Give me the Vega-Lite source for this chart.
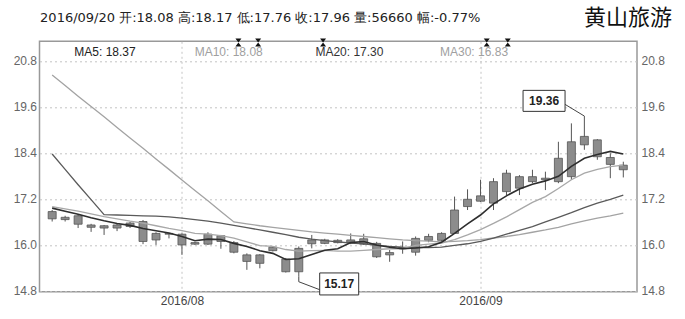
{
  "$schema": "https://vega.github.io/schema/vega-lite/v6.json",
  "width": 597.5,
  "height": 250.4,
  "autosize": {"type": "none"},
  "padding": {"left": 39.5, "top": 41.3, "right": 48, "bottom": 27.3},
  "background": "white",
  "config": {"view": {"stroke": "#999", "strokeWidth": 1.5}, "font": "Liberation Sans"},
  "datasets": {
    "k": [
      {"d": "2016-07-18", "i": 1, "o": 16.87, "h": 16.91, "l": 16.61, "c": 16.68},
      {"d": "2016-07-19", "i": 2, "o": 16.72, "h": 16.76, "l": 16.61, "c": 16.66},
      {"d": "2016-07-20", "i": 3, "o": 16.76, "h": 16.78, "l": 16.44, "c": 16.54},
      {"d": "2016-07-21", "i": 4, "o": 16.52, "h": 16.55, "l": 16.34, "c": 16.46},
      {"d": "2016-07-22", "i": 5, "o": 16.50, "h": 16.52, "l": 16.26, "c": 16.44},
      {"d": "2016-07-25", "i": 6, "o": 16.44, "h": 16.55, "l": 16.36, "c": 16.52},
      {"d": "2016-07-26", "i": 7, "o": 16.48, "h": 16.60, "l": 16.44, "c": 16.57},
      {"d": "2016-07-27", "i": 8, "o": 16.61, "h": 16.65, "l": 16.02, "c": 16.09},
      {"d": "2016-07-28", "i": 9, "o": 16.30, "h": 16.33, "l": 16.00, "c": 16.13},
      {"d": "2016-07-29", "i": 10, "o": 16.28, "h": 16.31, "l": 16.17, "c": 16.30},
      {"d": "2016-08-01", "i": 11, "o": 16.28, "h": 16.30, "l": 15.74, "c": 16.00},
      {"d": "2016-08-02", "i": 12, "o": 16.06, "h": 16.08, "l": 16.00, "c": 16.02},
      {"d": "2016-08-03", "i": 13, "o": 16.02, "h": 16.33, "l": 16.00, "c": 16.28},
      {"d": "2016-08-04", "i": 14, "o": 16.24, "h": 16.26, "l": 15.90, "c": 16.09},
      {"d": "2016-08-05", "i": 15, "o": 16.06, "h": 16.10, "l": 15.78, "c": 15.81},
      {"d": "2016-08-08", "i": 16, "o": 15.74, "h": 15.78, "l": 15.35, "c": 15.57},
      {"d": "2016-08-09", "i": 17, "o": 15.74, "h": 15.76, "l": 15.39, "c": 15.52},
      {"d": "2016-08-10", "i": 18, "o": 15.85, "h": 15.97, "l": 15.83, "c": 15.94},
      {"d": "2016-08-11", "i": 19, "o": 15.63, "h": 15.66, "l": 15.28, "c": 15.30},
      {"d": "2016-08-12", "i": 20, "o": 15.30, "h": 15.96, "l": 15.17, "c": 15.91},
      {"d": "2016-08-15", "i": 21, "o": 16.03, "h": 16.26, "l": 15.91, "c": 16.13},
      {"d": "2016-08-16", "i": 22, "o": 16.04, "h": 16.16, "l": 16.02, "c": 16.13},
      {"d": "2016-08-17", "i": 23, "o": 16.12, "h": 16.15, "l": 16.04, "c": 16.06},
      {"d": "2016-08-18", "i": 24, "o": 16.07, "h": 16.30, "l": 16.02, "c": 16.13},
      {"d": "2016-08-19", "i": 25, "o": 16.16, "h": 16.29, "l": 16.00, "c": 16.02},
      {"d": "2016-08-22", "i": 26, "o": 16.04, "h": 16.08, "l": 15.66, "c": 15.69},
      {"d": "2016-08-23", "i": 27, "o": 15.80, "h": 15.87, "l": 15.56, "c": 15.74},
      {"d": "2016-08-24", "i": 28, "o": 15.90, "h": 16.09, "l": 15.77, "c": 15.93},
      {"d": "2016-08-25", "i": 29, "o": 15.81, "h": 16.22, "l": 15.72, "c": 16.17},
      {"d": "2016-08-26", "i": 30, "o": 16.12, "h": 16.29, "l": 16.07, "c": 16.22},
      {"d": "2016-08-29", "i": 31, "o": 16.12, "h": 16.33, "l": 16.10, "c": 16.30},
      {"d": "2016-08-30", "i": 32, "o": 16.30, "h": 17.26, "l": 16.30, "c": 16.91},
      {"d": "2016-08-31", "i": 33, "o": 17.00, "h": 17.45, "l": 16.91, "c": 17.19},
      {"d": "2016-09-01", "i": 34, "o": 17.14, "h": 17.70, "l": 17.12, "c": 17.28},
      {"d": "2016-09-02", "i": 35, "o": 17.09, "h": 17.74, "l": 16.91, "c": 17.65},
      {"d": "2016-09-05", "i": 36, "o": 17.87, "h": 17.96, "l": 17.30, "c": 17.39},
      {"d": "2016-09-06", "i": 37, "o": 17.48, "h": 17.82, "l": 17.30, "c": 17.78},
      {"d": "2016-09-07", "i": 38, "o": 17.65, "h": 17.96, "l": 17.61, "c": 17.78},
      {"d": "2016-09-08", "i": 39, "o": 17.70, "h": 17.91, "l": 17.43, "c": 17.74},
      {"d": "2016-09-09", "i": 40, "o": 17.65, "h": 18.69, "l": 17.61, "c": 18.26},
      {"d": "2016-09-12", "i": 41, "o": 17.78, "h": 19.17, "l": 17.70, "c": 18.69},
      {"d": "2016-09-13", "i": 42, "o": 18.61, "h": 19.36, "l": 18.48, "c": 18.83},
      {"d": "2016-09-14", "i": 43, "o": 18.74, "h": 18.76, "l": 18.22, "c": 18.30},
      {"d": "2016-09-19", "i": 44, "o": 18.28, "h": 18.39, "l": 17.74, "c": 18.10},
      {"d": "2016-09-20", "i": 45, "o": 18.08, "h": 18.17, "l": 17.76, "c": 17.96}
    ],
    "ma": [
      {"i": 1, "ma5": 16.96, "ma10": 17.00, "ma20": 18.37, "ma30": 20.43},
      {"i": 2, "ma5": 16.88, "ma10": 16.94, "ma20": 17.97, "ma30": 20.16},
      {"i": 3, "ma5": 16.80, "ma10": 16.88, "ma20": 17.57, "ma30": 19.88},
      {"i": 4, "ma5": 16.71, "ma10": 16.81, "ma20": 17.18, "ma30": 19.61},
      {"i": 5, "ma5": 16.63, "ma10": 16.74, "ma20": 16.79, "ma30": 19.34},
      {"i": 6, "ma5": 16.56, "ma10": 16.68, "ma20": 16.78, "ma30": 19.06},
      {"i": 7, "ma5": 16.51, "ma10": 16.62, "ma20": 16.77, "ma30": 18.79},
      {"i": 8, "ma5": 16.43, "ma10": 16.57, "ma20": 16.76, "ma30": 18.52},
      {"i": 9, "ma5": 16.37, "ma10": 16.50, "ma20": 16.75, "ma30": 18.24},
      {"i": 10, "ma5": 16.31, "ma10": 16.43, "ma20": 16.73, "ma30": 17.97},
      {"i": 11, "ma5": 16.22, "ma10": 16.37, "ma20": 16.70, "ma30": 17.69},
      {"i": 12, "ma5": 16.11, "ma10": 16.30, "ma20": 16.66, "ma30": 17.42},
      {"i": 13, "ma5": 16.15, "ma10": 16.28, "ma20": 16.62, "ma30": 17.15},
      {"i": 14, "ma5": 16.14, "ma10": 16.24, "ma20": 16.57, "ma30": 16.87},
      {"i": 15, "ma5": 16.04, "ma10": 16.18, "ma20": 16.51, "ma30": 16.60},
      {"i": 16, "ma5": 15.96, "ma10": 16.08, "ma20": 16.45, "ma30": 16.55},
      {"i": 17, "ma5": 15.85, "ma10": 15.98, "ma20": 16.39, "ma30": 16.50},
      {"i": 18, "ma5": 15.78, "ma10": 15.96, "ma20": 16.33, "ma30": 16.46},
      {"i": 19, "ma5": 15.62, "ma10": 15.88, "ma20": 16.27, "ma30": 16.42},
      {"i": 20, "ma5": 15.64, "ma10": 15.84, "ma20": 16.20, "ma30": 16.38},
      {"i": 21, "ma5": 15.75, "ma10": 15.85, "ma20": 16.15, "ma30": 16.34},
      {"i": 22, "ma5": 15.86, "ma10": 15.86, "ma20": 16.11, "ma30": 16.31},
      {"i": 23, "ma5": 15.90, "ma10": 15.84, "ma20": 16.08, "ma30": 16.28},
      {"i": 24, "ma5": 16.06, "ma10": 15.84, "ma20": 16.05, "ma30": 16.25},
      {"i": 25, "ma5": 16.09, "ma10": 15.86, "ma20": 16.03, "ma30": 16.22},
      {"i": 26, "ma5": 16.00, "ma10": 15.88, "ma20": 15.99, "ma30": 16.19},
      {"i": 27, "ma5": 15.94, "ma10": 15.90, "ma20": 15.96, "ma30": 16.16},
      {"i": 28, "ma5": 15.90, "ma10": 15.90, "ma20": 15.94, "ma30": 16.13},
      {"i": 29, "ma5": 15.92, "ma10": 15.99, "ma20": 15.93, "ma30": 16.11},
      {"i": 30, "ma5": 15.95, "ma10": 16.02, "ma20": 15.93, "ma30": 16.10},
      {"i": 31, "ma5": 16.07, "ma10": 16.05, "ma20": 15.94, "ma30": 16.08},
      {"i": 32, "ma5": 16.30, "ma10": 16.14, "ma20": 15.99, "ma30": 16.09},
      {"i": 33, "ma5": 16.55, "ma10": 16.26, "ma20": 16.03, "ma30": 16.11},
      {"i": 34, "ma5": 16.78, "ma10": 16.40, "ma20": 16.09, "ma30": 16.14},
      {"i": 35, "ma5": 17.07, "ma10": 16.56, "ma20": 16.18, "ma30": 16.18},
      {"i": 36, "ma5": 17.28, "ma10": 16.73, "ma20": 16.28, "ma30": 16.22},
      {"i": 37, "ma5": 17.46, "ma10": 16.92, "ma20": 16.38, "ma30": 16.27},
      {"i": 38, "ma5": 17.58, "ma10": 17.11, "ma20": 16.48, "ma30": 16.33},
      {"i": 39, "ma5": 17.67, "ma10": 17.26, "ma20": 16.60, "ma30": 16.39},
      {"i": 40, "ma5": 17.79, "ma10": 17.47, "ma20": 16.72, "ma30": 16.46},
      {"i": 41, "ma5": 18.05, "ma10": 17.70, "ma20": 16.84, "ma30": 16.55},
      {"i": 42, "ma5": 18.26, "ma10": 17.87, "ma20": 16.97, "ma30": 16.63},
      {"i": 43, "ma5": 18.36, "ma10": 17.97, "ma20": 17.09, "ma30": 16.70},
      {"i": 44, "ma5": 18.44, "ma10": 18.04, "ma20": 17.19, "ma30": 16.76},
      {"i": 45, "ma5": 18.37, "ma10": 18.08, "ma20": 17.30, "ma30": 16.83}
    ],
    "leg": [
      {"i": 5.07, "v": 21.04, "s": "MA5", "t": "MA5: 18.37"},
      {"i": 14.6, "v": 21.04, "s": "MA10", "t": "MA10: 18.08"},
      {"i": 23.9, "v": 21.04, "s": "MA20", "t": "MA20: 17.30"},
      {"i": 33.5, "v": 21.04, "s": "MA30", "t": "MA30: 16.83"}
    ],
    "ev": [
      {"i": 15.35, "v": 21.28},
      {"i": 16.87, "v": 21.28},
      {"i": 21.87, "v": 21.28},
      {"i": 34.48, "v": 21.28},
      {"i": 36.1, "v": 21.28}
    ],
    "notes": [
      {"i": 42, "v": 19.36, "t": "19.36", "kind": "high"},
      {"i": 20, "v": 15.17, "t": "15.17", "kind": "low"}
    ],
    "info": [
      {"i": 0.07, "v": 21.92, "t": "2016/09/20 开:18.08 高:18.17 低:17.76 收:17.96 量:56660 幅:-0.77%"}
    ],
    "name": [
      {"i": 48.75, "v": 21.93, "t": "黄山旅游"}
    ]
  },
  "encoding": {
    "x": {"field": "i", "type": "quantitative", "title": null,
      "scale": {"domain": [0.41, 45.67], "nice": false, "zero": false},
      "axis": {"values": [11, 34], "labelExpr": "datum.value == 11 ? '2016/08' : '2016/09'", "grid": true, "gridDash": [2, 3], "gridColor": "#c4c4c4", "ticks": false, "domain": false, "labelColor": "#444", "labelFontSize": 12, "labelPadding": 4, "title": null, "labelFont": "Liberation Sans"}
    }
  },
  "layer": [
    {
      "data": {"name": "k"},
      "mark": {"type": "rule", "color": "#555", "strokeWidth": 1},
      "encoding": {
        "y": {"field": "l", "type": "quantitative", "title": null,
          "scale": {"domain": [14.78, 21.31], "nice": false, "zero": false},
          "axis": {"orient": "left", "values": [14.8, 16.0, 17.2, 18.4, 19.6, 20.8], "format": ".1f", "grid": true, "gridDash": [2, 3], "gridColor": "#c4c4c4", "ticks": false, "domain": false, "labelColor": "#666", "labelFontSize": 12, "labelPadding": 3, "title": null, "labelFont": "Liberation Sans"}},
        "y2": {"field": "h"}
      }
    },
    {
      "data": {"name": "k"},
      "mark": {"type": "bar", "size": 8, "fill": "#8c8c8c", "stroke": "#555", "strokeWidth": 0.8},
      "encoding": {
        "y": {"field": "o", "type": "quantitative", "title": null,
          "scale": {"domain": [14.78, 21.31], "nice": false, "zero": false},
          "axis": {"orient": "right", "values": [14.8, 16.0, 17.2, 18.4, 19.6, 20.8], "format": ".1f", "grid": false, "ticks": false, "domain": false, "labelColor": "#666", "labelFontSize": 12, "labelPadding": 4, "title": null, "labelFont": "Liberation Sans"}},
        "y2": {"field": "c"}
      }
    },
    {
      "data": {"name": "ma"},
      "mark": {"type": "line", "color": "#a3a3a3", "strokeWidth": 1.3},
      "encoding": {"y": {"field": "ma30", "type": "quantitative", "title": null, "scale": {"domain": [14.78, 21.31], "nice": false, "zero": false}, "axis": null}}
    },
    {
      "data": {"name": "ma"},
      "mark": {"type": "line", "color": "#5a5a5a", "strokeWidth": 1.3},
      "encoding": {"y": {"field": "ma20", "type": "quantitative", "title": null, "scale": {"domain": [14.78, 21.31], "nice": false, "zero": false}, "axis": null}}
    },
    {
      "data": {"name": "ma"},
      "mark": {"type": "line", "color": "#a8a8a8", "strokeWidth": 1.3},
      "encoding": {"y": {"field": "ma10", "type": "quantitative", "title": null, "scale": {"domain": [14.78, 21.31], "nice": false, "zero": false}, "axis": null}}
    },
    {
      "data": {"name": "ma"},
      "mark": {"type": "line", "color": "#2e2e2e", "strokeWidth": 1.6},
      "encoding": {"y": {"field": "ma5", "type": "quantitative", "title": null, "scale": {"domain": [14.78, 21.31], "nice": false, "zero": false}, "axis": null}}
    },
    {
      "data": {"name": "leg"},
      "mark": {"type": "text", "fontSize": 12, "font": "Liberation Sans", "align": "center", "baseline": "middle"},
      "encoding": {
        "y": {"field": "v", "type": "quantitative", "title": null, "scale": {"domain": [14.78, 21.31], "nice": false, "zero": false}, "axis": null},
        "text": {"field": "t"},
        "color": {"field": "s", "type": "nominal", "legend": null, "scale": {"domain": ["MA5", "MA10", "MA20", "MA30"], "range": ["#222", "#a0a0a0", "#333", "#a0a0a0"]}}
      }
    },
    {
      "data": {"name": "ev"},
      "mark": {"type": "point", "shape": "M-0.75,-1L0.75,-1L-0.75,1L0.75,1Z", "size": 64, "filled": true, "color": "#111", "opacity": 1},
      "encoding": {"y": {"field": "v", "type": "quantitative", "title": null, "scale": {"domain": [14.78, 21.31], "nice": false, "zero": false}, "axis": null}}
    },
    {
      "data": {"name": "notes"},
      "transform": [{"filter": "datum.kind == 'high'"}],
      "mark": {"type": "rule", "color": "#444", "strokeWidth": 1, "x2Offset": -19.3, "y2Offset": -11.7},
      "encoding": {
        "y": {"field": "v", "type": "quantitative", "title": null, "scale": {"domain": [14.78, 21.31], "nice": false, "zero": false}, "axis": null},
        "x2": {"field": "i"}, "y2": {"field": "v"}
      }
    },
    {
      "data": {"name": "notes"},
      "transform": [{"filter": "datum.kind == 'high'"}],
      "mark": {"type": "rect", "fill": "white", "stroke": "#333", "strokeWidth": 1, "xOffset": -61.3, "x2Offset": -19.3, "yOffset": -25.7, "y2Offset": -4.7},
      "encoding": {
        "y": {"field": "v", "type": "quantitative", "title": null, "scale": {"domain": [14.78, 21.31], "nice": false, "zero": false}, "axis": null},
        "x2": {"field": "i"}, "y2": {"field": "v"}
      }
    },
    {
      "data": {"name": "notes"},
      "transform": [{"filter": "datum.kind == 'high'"}],
      "mark": {"type": "text", "fontSize": 12, "fontWeight": "bold", "color": "#222", "font": "Liberation Sans", "xOffset": -40.3, "yOffset": -15.2, "baseline": "middle"},
      "encoding": {
        "y": {"field": "v", "type": "quantitative", "title": null, "scale": {"domain": [14.78, 21.31], "nice": false, "zero": false}, "axis": null},
        "text": {"field": "t"}
      }
    },
    {
      "data": {"name": "notes"},
      "transform": [{"filter": "datum.kind == 'low'"}],
      "mark": {"type": "rule", "color": "#444", "strokeWidth": 1, "y2Offset": 5},
      "encoding": {
        "y": {"field": "v", "type": "quantitative", "title": null, "scale": {"domain": [14.78, 21.31], "nice": false, "zero": false}, "axis": null},
        "x2": {"field": "i"}, "y2": {"field": "v"}
      }
    },
    {
      "data": {"name": "notes"},
      "transform": [{"filter": "datum.kind == 'low'"}],
      "mark": {"type": "rule", "color": "#444", "strokeWidth": 1, "yOffset": 5, "x2Offset": 21, "y2Offset": 13},
      "encoding": {
        "y": {"field": "v", "type": "quantitative", "title": null, "scale": {"domain": [14.78, 21.31], "nice": false, "zero": false}, "axis": null},
        "x2": {"field": "i"}, "y2": {"field": "v"}
      }
    },
    {
      "data": {"name": "notes"},
      "transform": [{"filter": "datum.kind == 'low'"}],
      "mark": {"type": "rect", "fill": "white", "stroke": "#333", "strokeWidth": 1, "clip": false, "xOffset": 20.9, "x2Offset": 59.9, "yOffset": -3.8, "y2Offset": 18.2},
      "encoding": {
        "y": {"field": "v", "type": "quantitative", "title": null, "scale": {"domain": [14.78, 21.31], "nice": false, "zero": false}, "axis": null},
        "x2": {"field": "i"}, "y2": {"field": "v"}
      }
    },
    {
      "data": {"name": "notes"},
      "transform": [{"filter": "datum.kind == 'low'"}],
      "mark": {"type": "text", "fontSize": 12, "fontWeight": "bold", "color": "#222", "font": "Liberation Sans", "xOffset": 40.4, "yOffset": 7.7, "baseline": "middle"},
      "encoding": {
        "y": {"field": "v", "type": "quantitative", "title": null, "scale": {"domain": [14.78, 21.31], "nice": false, "zero": false}, "axis": null},
        "text": {"field": "t"}
      }
    },
    {
      "data": {"name": "info"},
      "mark": {"type": "text", "fontSize": 13, "color": "#222", "font": "DejaVu Sans", "align": "left", "baseline": "middle"},
      "encoding": {
        "y": {"field": "v", "type": "quantitative", "title": null, "scale": {"domain": [14.78, 21.31], "nice": false, "zero": false}, "axis": null},
        "text": {"field": "t"}
      }
    },
    {
      "data": {"name": "name"},
      "mark": {"type": "text", "fontSize": 22, "color": "#111", "font": "Noto Sans CJK SC", "align": "right", "baseline": "middle"},
      "encoding": {
        "y": {"field": "v", "type": "quantitative", "title": null, "scale": {"domain": [14.78, 21.31], "nice": false, "zero": false}, "axis": null},
        "text": {"field": "t"}
      }
    }
  ],
  "resolve": {"axis": {"y": "independent"}}
}
